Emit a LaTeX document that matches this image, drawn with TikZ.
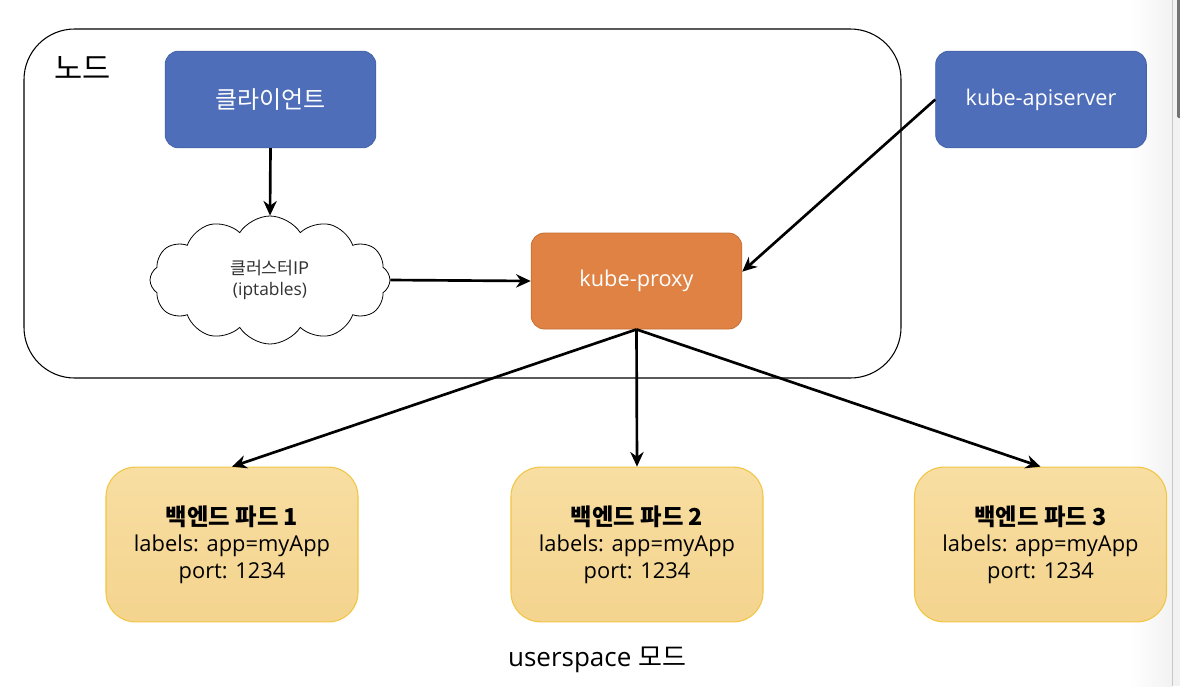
\documentclass[tikz,border=0pt]{standalone}
\usepackage{fontspec}
\setmainfont{Open Sans}
\newfontfamily\kr{Noto Sans CJK KR}
\usetikzlibrary{shapes.symbols,arrows.meta}
\definecolor{bluefill}{HTML}{4F6EBA}
\definecolor{blueline}{HTML}{4462A8}
\definecolor{orangefill}{HTML}{DF8244}
\definecolor{orangeline}{HTML}{C86F33}
\definecolor{podtop}{HTML}{F8DEA2}
\definecolor{podbot}{HTML}{F4D48E}
\definecolor{podline}{HTML}{F1C645}
\definecolor{cloudtext}{HTML}{333333}
\begin{document}
\begin{tikzpicture}[x=0.75pt,y=-0.75pt,
  bluebox/.style={draw=blueline, fill=bluefill, rounded corners=10pt, line width=0.6pt,
    minimum width=158pt, minimum height=72.5pt, text=white, font=\fontsize{16.2}{19}\selectfont},
  orangebox/.style={draw=orangeline, fill=orangefill, rounded corners=10pt, line width=0.6pt,
    minimum width=158pt, minimum height=72pt, text=white, font=\fontsize{16.3}{19}\selectfont},
  podbox/.style={draw=podline, top color=podtop, bottom color=podbot, rounded corners=22pt, line width=0.8pt,
    minimum width=189pt, minimum height=116pt, align=center, font=\fontsize{16.4}{20}\selectfont},
  container/.style={draw=black, rounded corners=38pt, line width=0.8pt,
    minimum width=657.75pt, minimum height=261.75pt},
  cloudnode/.style={cloud, draw=black, line width=0.6pt, cloud puffs=12, cloud puff arc=115,
    aspect=1.9, minimum width=180pt, minimum height=96pt, inner sep=0pt, align=center,
    text=cloudtext, font=\fontsize{13}{16}\selectfont},
  conn/.style={-{Stealth[length=11pt,width=10pt]}, line width=2pt, black}
]
\useasboundingbox (0,0) rectangle (1180,686);
\fill[white] (0,0) rectangle (1180,686);
% scrollbar strip
\shade[left color=white, right color=black!5] (1130,0) rectangle (1172,686);
\fill[black!5] (1172,0) rectangle (1180,686);
\draw[black!22, line width=0.6pt] (1172,0) -- (1172,686);
\fill[black!55, rounded corners=1.5pt] (1177,-5) rectangle (1182,118);

\node[container] (nodebox) at (462.5,203.5) {};
\node[anchor=center, font=\kr\fontsize{23}{26}\selectfont] (nodelabel) at (82.5,68) {노드};

\node[bluebox, font=\kr\fontsize{18}{21}\selectfont] (client) at (270.5,99.5) {클라이언트};
\node[bluebox] (api) at (1041,99.5) {kube-apiserver};
\node[orangebox] (proxy) at (636.5,281) {kube-proxy};
\node[cloudnode] (cip) at (270,280) {{\kr 클러스터IP}\\(iptables)};

\node[podbox] (pod1) at (232,544.5) {{\kr\bfseries\fontsize{17.5}{20}\selectfont 백엔드 파드 1}\\labels: app=myApp\\port: 1234};
\node[podbox] (pod2) at (637,544.5) {{\kr\bfseries\fontsize{17.5}{20}\selectfont 백엔드 파드 2}\\labels: app=myApp\\port: 1234};
\node[podbox] (pod3) at (1040.5,544.5) {{\kr\bfseries\fontsize{17.5}{20}\selectfont 백엔드 파드 3}\\labels: app=myApp\\port: 1234};

\node[font=\fontsize{19.5}{22}\selectfont] (caption) at (597,660) {userspace {\kr 모드}};

\draw[conn] (client.south) -- (cip.north);
\draw[conn] (cip.east) -- (proxy.west);
\draw[conn] (api.west) -- ([yshift=7pt]proxy.east);
\draw[conn] (proxy.south) -- (pod1.north);
\draw[conn] (proxy.south) -- (pod2.north);
\draw[conn] (proxy.south) -- (pod3.north);
\end{tikzpicture}
\end{document}
